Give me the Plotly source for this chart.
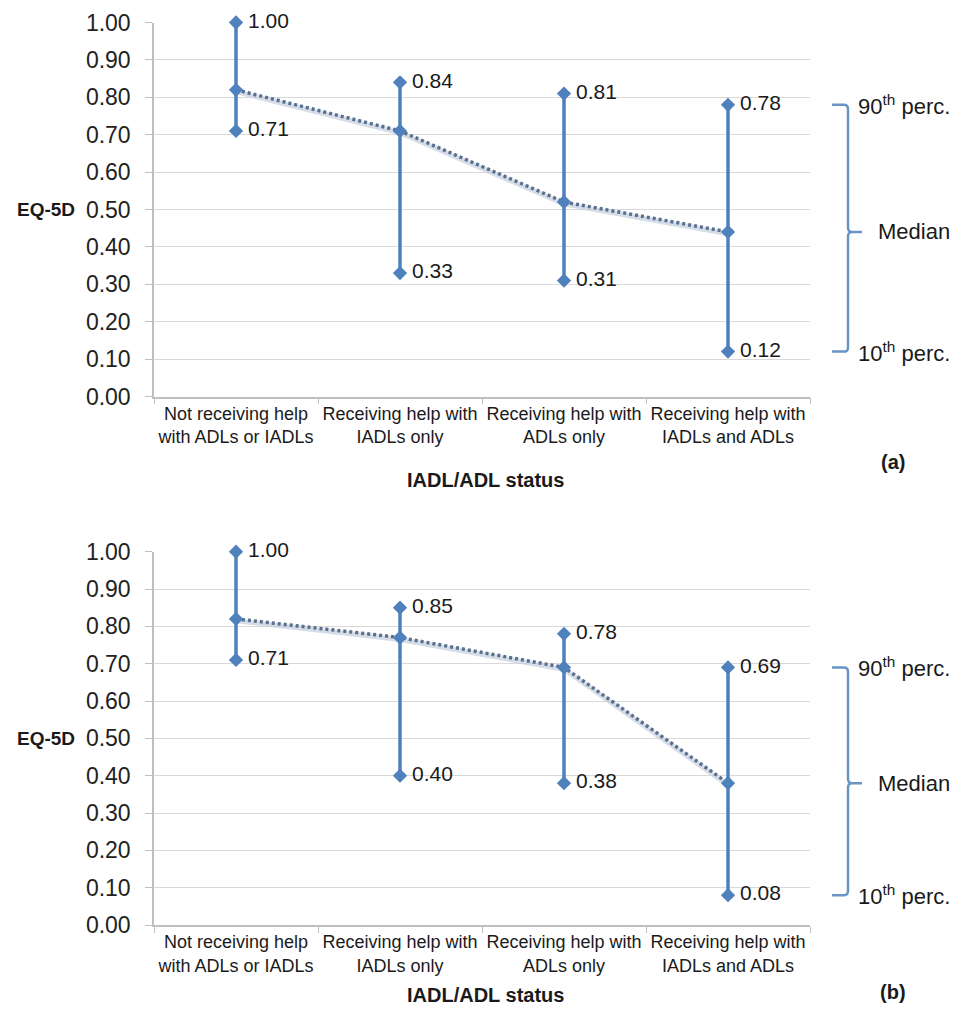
import plotly.graph_objects as go

categories = ["Not receiving help<br>with ADLs or IADLs",
              "Receiving help with<br>IADLs only",
              "Receiving help with<br>ADLs only",
              "Receiving help with<br>IADLs and ADLs"]

# Panel (a)
a_p90 = [1.00, 0.84, 0.81, 0.78]
a_median = [0.82, 0.71, 0.52, 0.44]
a_p10 = [0.71, 0.33, 0.31, 0.12]

# Panel (b)
b_p90 = [1.00, 0.85, 0.78, 0.69]
b_median = [0.82, 0.77, 0.69, 0.38]
b_p10 = [0.71, 0.40, 0.38, 0.08]

y_ticks = [i / 10 for i in range(11)]

BLUE = "#4F81BD"
FONT = "Liberation Sans, Arial, sans-serif"
TXT = "#1a1a1a"

W, H = 946, 998  # page adds an 8px body margin
OFF = 8


def px(x):
    return (x - OFF) / W


def py(y):
    return 1 - (y - OFF) / H


fig = go.Figure()


def add_panel(p90, med, p10, xa, ya):
    for c, hi, lo in zip(categories, p90, p10):
        fig.add_trace(go.Scatter(
            x=[c, c], y=[hi, lo], xaxis=xa, yaxis=ya,
            mode="lines+markers+text",
            line=dict(color=BLUE, width=3.5),
            marker=dict(symbol="diamond", size=11, color=BLUE),
            text=[f"\u2009{hi:.2f}", f"\u2009{lo:.2f}"],
            textposition="middle right",
            textfont=dict(family=FONT, size=21, color=TXT),
            cliponaxis=False, showlegend=False, hoverinfo="skip"))
    fig.add_trace(go.Scatter(
        x=categories, y=[m - 0.005 for m in med], xaxis=xa, yaxis=ya,
        mode="lines", line=dict(color="rgba(195,207,222,0.7)", width=5),
        showlegend=False, hoverinfo="skip", cliponaxis=False))
    fig.add_trace(go.Scatter(
        x=categories, y=med, xaxis=xa, yaxis=ya,
        mode="lines+markers",
        line=dict(color="#5a6f8c", width=3.5, dash="3px,3px"),
        marker=dict(symbol="diamond", size=11, color=BLUE),
        showlegend=False, hoverinfo="skip", cliponaxis=False))


add_panel(a_p90, a_median, a_p10, "x", "y")
add_panel(b_p90, b_median, b_p10, "x2", "y2")

x_dom = [px(154), px(810)]
ya_dom = [py(396.5), py(22.5)]
yb_dom = [py(925), py(551.7)]

xcommon = dict(type="category", categoryorder="array", categoryarray=categories,
               range=[-0.5, 3.5], tickson="boundaries", ticks="outside", ticklen=6,
               tickcolor="#bfbfbf", showline=True, linecolor="#bfbfbf", linewidth=1.5,
               showgrid=False, zeroline=False, domain=x_dom, tickangle=0,
               automargin=False,
               tickfont=dict(family=FONT, size=18, color=TXT), fixedrange=True)
ycommon = dict(range=[0, 1], tickvals=y_ticks, tickformat=".2f",
               showgrid=True, gridcolor="#d9d9d9", gridwidth=1,
               showline=True, linecolor="#bfbfbf", linewidth=1.5,
               ticks="outside", ticklen=7, tickcolor="#bfbfbf",
               ticklabelstandoff=10, zeroline=False, automargin=False,
               tickfont=dict(family=FONT, size=23, color="#222"), fixedrange=True)

fig.update_layout(
    width=W, height=H,
    margin=dict(l=0, r=0, t=0, b=0, autoexpand=False),
    paper_bgcolor="white", plot_bgcolor="white",
    showlegend=False,
    xaxis=dict(**xcommon, anchor="y"),
    yaxis=dict(**ycommon, domain=ya_dom, anchor="x"),
    xaxis2=dict(**xcommon, anchor="y2"),
    yaxis2=dict(**ycommon, domain=yb_dom, anchor="x2"),
)

shapes = []
annotations = []
for (p90, med, p10, yref, lab, ylab_paper, title_paper) in [
        (a_p90, a_median, a_p10, "y", "(a)", py(462), py(480)),
        (b_p90, b_median, b_p10, "y2", "(b)", py(992), py(995))]:
    top, mid, bot = p90[-1], med[-1], p10[-1]
    x0, x1, x2 = px(832), px(848), px(862)
    r = 0.012
    rx = 4 / W
    path = (f"M {x0},{top} L {x1 - rx},{top} Q {x1},{top} {x1},{top - r} "
            f"L {x1},{mid + r} Q {x1},{mid} {x1 + rx},{mid} L {x2},{mid} "
            f"M {x1 + rx},{mid} Q {x1},{mid} {x1},{mid - r} "
            f"L {x1},{bot + r} Q {x1},{bot} {x1 - rx},{bot} L {x0},{bot}")
    shapes.append(dict(type="path", xref="paper", yref=yref, path=path,
                       line=dict(color="#6a93c6", width=2.5)))
    annotations += [
        dict(x=px(856), y=top, xref="paper", yref=yref, xanchor="left", yanchor="middle",
             text="90<sup>th</sup> perc.", showarrow=False,
             font=dict(family=FONT, size=22, color=TXT)),
        dict(x=px(876), y=mid, xref="paper", yref=yref, xanchor="left", yanchor="middle",
             text="Median", showarrow=False,
             font=dict(family=FONT, size=22, color=TXT)),
        dict(x=px(856), y=bot, xref="paper", yref=yref, xanchor="left", yanchor="middle",
             text="10<sup>th</sup> perc.", showarrow=False,
             font=dict(family=FONT, size=22, color=TXT)),
        dict(x=px(77), y=0.5, xref="paper", yref=yref, xanchor="right", yanchor="middle",
             text="<b>EQ-5D</b>", showarrow=False,
             font=dict(family=FONT, size=19, color=TXT)),
        dict(x=px(893), y=ylab_paper, xref="paper", yref="paper", xanchor="center",
             yanchor="middle", text=f"<b>{lab}</b>", showarrow=False,
             font=dict(family=FONT, size=20, color=TXT)),
        dict(x=px(486), y=title_paper, xref="paper", yref="paper", xanchor="center",
             yanchor="middle", text="<b>IADL/ADL status</b>", showarrow=False,
             font=dict(family=FONT, size=20, color=TXT)),
    ]

fig.update_layout(shapes=shapes, annotations=annotations)
fig.write_html("out.html")
